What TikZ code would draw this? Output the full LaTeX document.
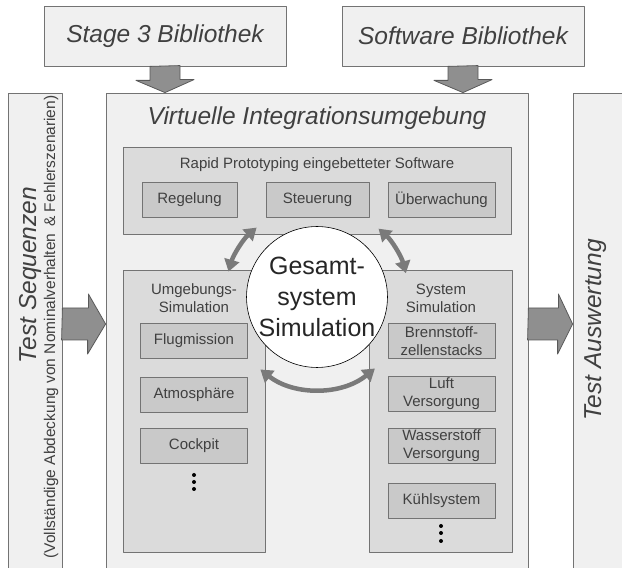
\documentclass[tikz,border=0pt]{standalone}
\usepackage{fontspec}
\setmainfont{Liberation Sans}
\usetikzlibrary{arrows,arrows.meta}
\definecolor{boxgray}{rgb}{0.94,0.94,0.94}
\definecolor{midgray}{rgb}{0.86,0.86,0.86}
\definecolor{innergray}{rgb}{0.79,0.79,0.79}
\definecolor{linegray}{rgb}{0.45,0.45,0.45}
\definecolor{txtgray}{rgb}{0.25,0.25,0.25}
\definecolor{arrowgray}{rgb}{0.56,0.56,0.56}
\definecolor{arrowline}{rgb}{0.35,0.35,0.35}
\definecolor{cyclegray}{rgb}{0.48,0.48,0.48}
\newcommand{\bigfont}{\fontsize{24.5}{29}\selectfont}
\newcommand{\smallfont}{\fontsize{15}{18}\selectfont}
\newcommand{\subfont}{\fontsize{15.5}{18}\selectfont}
\newcommand{\circfont}{\fontsize{25}{31}\selectfont}
\tikzset{
  bigbox/.style={draw=linegray,fill=boxgray,line width=0.8pt,inner sep=0pt},
  midbox/.style={draw=linegray,fill=midgray,line width=0.8pt,inner sep=0pt},
  smallbox/.style={draw=linegray,fill=innergray,line width=0.8pt,inner sep=0pt,
    minimum width=107pt,minimum height=35pt,text=txtgray,font=\smallfont,align=center},
  bigtext/.style={text=txtgray,font=\bigfont\itshape},
  smalltext/.style={text=txtgray,font=\smallfont,align=center},
  blockarrow/.style={draw=arrowline,fill=arrowgray,line width=0.8pt},
  cyclearrow/.style={draw=cyclegray,line width=4.5pt,line cap=butt,
    {Triangle[length=12pt,width=15pt]}-{Triangle[length=12pt,width=15pt]}}
}
\begin{document}
\begin{tikzpicture}[line cap=round,line join=round,>=triangle 45,x=1pt,y=1pt]
\useasboundingbox (0,0) rectangle (622,568);
% Bibliotheken
\node[bigbox,bigtext,minimum width=242pt,minimum height=60pt] (stage) at (165,532) {Stage 3 Bibliothek};
\node[bigbox,bigtext,minimum width=242pt,minimum height=60pt] (soft) at (463,532) {Software Bibliothek};
% Rahmen
\node[bigbox,minimum width=422pt,minimum height=480pt] (virt) at (317,235) {};
\node[bigtext] (virttitle) at (317,450) {Virtuelle Integrationsumgebung};
\node[bigbox,minimum width=54pt,minimum height=480pt] (seq) at (35,235) {};
\node[bigbox,minimum width=67pt,minimum height=480pt] (ausw) at (606.5,235) {};
\node[bigtext,rotate=90] (seqtitle) at (30,293) {Test Sequenzen};
\node[text=txtgray,font=\subfont,rotate=90] (seqsub) at (51,241) {(Vollständige Abdeckung von Nominalverhalten \,\& Fehlerszenarien)};
\node[bigtext,rotate=90] (auswtitle) at (596,238) {Test Auswertung};
% Blockpfeile
\foreach \n in {stage,soft}
  \draw[blockarrow] (\n.south) ++(-15,0) -- ++(0,-14) -- ++(-14,0) -- (\n.south |- virt.north)
    -- ++(29,13) -- ++(-14,0) -- ++(0,14) -- cycle;
\draw[blockarrow] ([yshift=25pt]seq.east) -- ++(26,0) -- ++(0,14) -- ([yshift=9pt]virt.west)
  -- ++(-18,-30) -- ++(0,14) -- ++(-26,0) -- cycle;
\draw[blockarrow] ([yshift=25pt]virt.east) -- ++(30,0) -- ++(0,14) -- ([yshift=9pt]ausw.west)
  -- ++(-15,-30) -- ++(0,14) -- ++(-30,0) -- cycle;
% Rapid Prototyping
\node[midbox,minimum width=388pt,minimum height=87pt] (rp) at (317,377.5) {};
\node[smalltext] (rptitle) at (317,403) {Rapid Prototyping eingebetteter Software};
\node[smallbox,minimum width=95pt] (regel) at (189.5,368.5) {Regelung};
\node[smallbox,minimum width=103pt] (steuer) at (317.5,368.5) {Steuerung};
\node[smallbox] (ueber) at (441.5,368.5) {Überwachung};
% Umgebungs-Simulation
\node[midbox,minimum width=142pt,minimum height=282pt] (umg) at (194,157) {};
\node[smalltext] (umgtitle) at (194,270) {Umgebungs-\\Simulation};
\node[smallbox] (flug) at (194,227.5) {Flugmission};
\node[smallbox] (atmo) at (194,173.5) {Atmosphäre};
\node[smallbox] (cock) at (194,122) {Cockpit};
\foreach \y in {93,86,79}
  \fill[black] (194,\y) circle (2pt);
% System Simulation
\node[midbox,minimum width=143pt,minimum height=282pt] (sys) at (440.5,157) {};
\node[smalltext] (systitle) at (441,270) {System\\Simulation};
\node[smallbox] (brenn) at (441.5,227) {Brennstoff-\\zellenstacks};
\node[smallbox] (luft) at (441.5,174) {Luft\\Versorgung};
\node[smallbox] (wasser) at (441.5,122) {Wasserstoff\\Versorgung};
\node[smallbox] (kuehl) at (441.5,67.5) {Kühlsystem};
\foreach \y in {42,35,27}
  \fill[black] (441,\y) circle (2pt);
% Gesamtsystem
\node[circle,draw=black,fill=white,line width=0.6pt,minimum size=140pt,inner sep=0pt,align=center,
  text=black!85,font=\circfont] (gesamt) at (317,271) {Gesamt-\\system\\Simulation};
\draw[cyclearrow] ([shift={(164:92)}]gesamt.center) arc (164:131:92);
\draw[cyclearrow] ([shift={(48:92)}]gesamt.center) arc (48:15:92);
\draw[cyclearrow] ([shift={(232:92)}]gesamt.center) arc (232:309:92);
\end{tikzpicture}
\end{document}
